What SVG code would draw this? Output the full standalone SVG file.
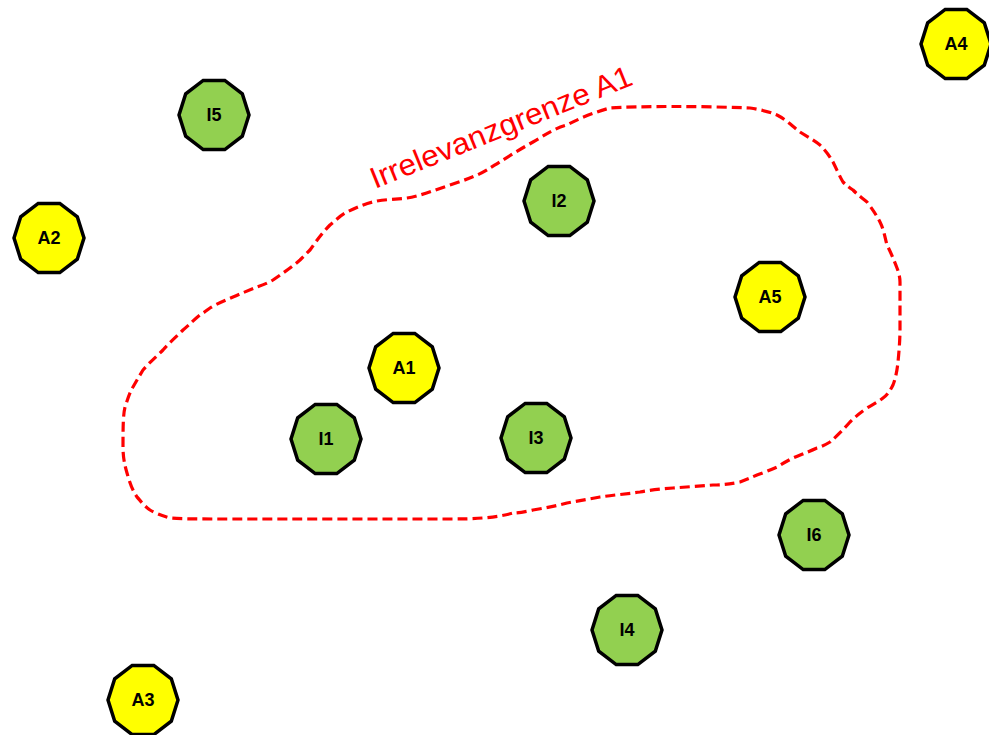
<svg xmlns="http://www.w3.org/2000/svg" xmlns:xlink="http://www.w3.org/1999/xlink" width="989" height="735" viewBox="0 0 989 735">
<style>
.g{fill:#92d050}
.y{fill:#ffff00}
.n{stroke:#000;stroke-width:3.5;stroke-linejoin:miter}
.t{font-family:"Liberation Sans",Arial,sans-serif;font-weight:bold;font-size:18px;fill:#000;text-anchor:middle;dominant-baseline:central}
.b{fill:none;stroke:#ff0000;stroke-width:3.2;stroke-dasharray:10 5;stroke-linejoin:round}
.l{font-family:"Liberation Sans",Arial,sans-serif;font-size:30px;fill:#ff0000}
</style>
<defs>
<polygon id="dec" points="35,0 28.3,21.2 10.8,34.6 -10.8,34.6 -28.3,21.2 -35,0 -28.3,-21.2 -10.8,-34.6 10.8,-34.6 28.3,-21.2"/>
</defs>
<rect width="989" height="735" fill="#fff"/>
<g id="boundary">
<path class="b" d="M377,201 C390,199 400,199 407,198 C420,196 435,190 450,185 C465,180 480,175 490,168 C500,162 515,152 533,142 C545,135 555,128 567,125 C580,118 595,112 610,108 C640,106 700,106 750,108 C762,110 770,112 777,115 C787,120 793,127 800,132 C808,137 815,141 820,145 C827,152 830,157 833,162 C837,170 840,177 843,182 C847,186 850,188 853,190 C858,195 862,198 867,202 C873,210 877,216 880,222 C884,230 885,238 887,245 C891,253 894,260 897,268 C899,273 900,278 900,282 C900,300 900,315 900,328 C900,340 899,352 898,362 C897,372 895,380 893,385 C890,391 887,395 883,398 C878,402 872,405 867,408 C860,413 855,417 850,422 C843,430 836,437 830,442 C825,445 821,447 817,448 C808,452 800,455 793,458 C787,461 782,464 777,467 C770,470 763,473 757,475 C750,478 745,480 740,482 C730,484 722,485 713,485 C700,486 686,487 673,488 C660,489 650,490 640,492 C627,494 613,495 600,497 C589,499 578,501 567,503 C556,506 545,508 533,510 C525,512 518,513 513,513 C495,518 475,519 450,519 C380,519 300,519 233,519 C200,519 180,519 170,518 C160,515 155,513 150,510 C143,505 140,500 137,497 C132,490 129,480 127,473 C124,463 123,455 123,447 C123,430 123,415 125,407 C128,398 130,392 133,387 C137,380 140,375 143,370 C150,362 157,356 163,350 C170,342 177,336 183,330 C190,324 195,319 200,315 C205,312 207,310 210,308 C218,303 226,300 233,297 C242,293 250,290 257,287 C263,285 268,283 273,280 C283,273 292,267 300,260 C304,256 307,253 310,250 C317,240 323,232 330,225 C336,220 341,215 347,212 C357,207 367,203 377,201 Z"/>
<text class="l" transform="translate(375,189) rotate(-22)" textLength="280" lengthAdjust="spacingAndGlyphs">Irrelevanzgrenze A1</text>
</g>
<g id="connectors"></g>
<g id="I5"><use href="#dec" xlink:href="#dec" class="g n" transform="translate(214,115)"/><text class="t" x="214" y="115">I5</text></g>
<g id="A4"><use href="#dec" xlink:href="#dec" class="y n" transform="translate(956,44)"/><text class="t" x="956" y="44">A4</text></g>
<g id="A2"><use href="#dec" xlink:href="#dec" class="y n" transform="translate(49,238)"/><text class="t" x="49" y="238">A2</text></g>
<g id="I2"><use href="#dec" xlink:href="#dec" class="g n" transform="translate(559,201)"/><text class="t" x="559" y="201">I2</text></g>
<g id="A5"><use href="#dec" xlink:href="#dec" class="y n" transform="translate(770,297)"/><text class="t" x="770" y="297">A5</text></g>
<g id="A1"><use href="#dec" xlink:href="#dec" class="y n" transform="translate(404,368)"/><text class="t" x="404" y="368">A1</text></g>
<g id="I1"><use href="#dec" xlink:href="#dec" class="g n" transform="translate(326,439)"/><text class="t" x="326" y="439">I1</text></g>
<g id="I3"><use href="#dec" xlink:href="#dec" class="g n" transform="translate(536,438)"/><text class="t" x="536" y="438">I3</text></g>
<g id="I6"><use href="#dec" xlink:href="#dec" class="g n" transform="translate(814,535)"/><text class="t" x="814" y="535">I6</text></g>
<g id="I4"><use href="#dec" xlink:href="#dec" class="g n" transform="translate(627,630)"/><text class="t" x="627" y="630">I4</text></g>
<g id="A3"><use href="#dec" xlink:href="#dec" class="y n" transform="translate(143,700)"/><text class="t" x="143" y="700">A3</text></g>
</svg>
